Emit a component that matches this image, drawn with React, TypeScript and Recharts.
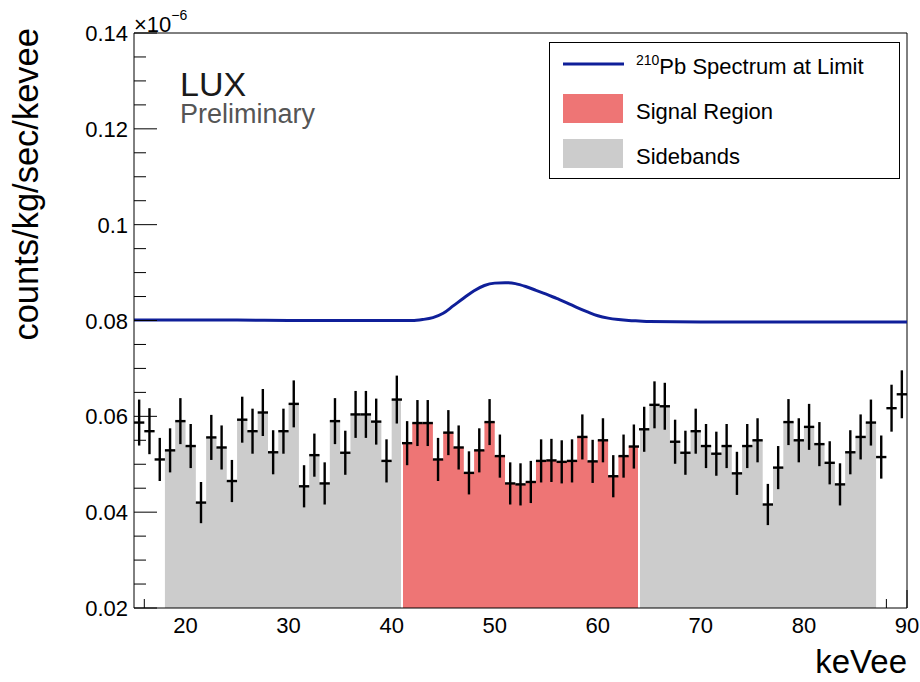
import React from 'react';
import {
  ComposedChart,
  Area,
  Line,
  Scatter,
  ErrorBar,
  XAxis,
  YAxis,
  ReferenceLine,
  Legend
} from 'recharts';

// measured rate per 1 keVee bin, first bin starts at 15 keVee
const firstBinEdge = 15;
const counts = [
  0.0587, 0.0569, 0.0510, 0.0529, 0.0590, 0.0538, 0.0420, 0.0556, 0.0535, 0.0465,
  0.0593, 0.0569, 0.0608, 0.0525, 0.0569, 0.0626, 0.0454, 0.0519, 0.0460, 0.0590,
  0.0524, 0.0604, 0.0604, 0.0589, 0.0507, 0.0635, 0.0544, 0.0586, 0.0586, 0.0510,
  0.0566, 0.0535, 0.0482, 0.0529, 0.0588, 0.0517, 0.0460, 0.0458, 0.0463, 0.0507,
  0.0508, 0.0505, 0.0507, 0.0557, 0.0506, 0.0550, 0.0475, 0.0517, 0.0537, 0.0573,
  0.0624, 0.0621, 0.0547, 0.0524, 0.0569, 0.0538, 0.0522, 0.0538, 0.0481, 0.0538,
  0.0550, 0.0416, 0.0493, 0.0588, 0.0550, 0.0578, 0.0542, 0.0503, 0.0458, 0.0525,
  0.0557, 0.0587, 0.0515, 0.0617, 0.0646
];
const countErrors = [
  0.0048, 0.0048, 0.0045, 0.0046, 0.0048, 0.0046, 0.0043, 0.0047, 0.0046, 0.0044,
  0.0048, 0.0047, 0.0049, 0.0046, 0.0047, 0.0049, 0.0044, 0.0045, 0.0044, 0.0048,
  0.0046, 0.0049, 0.0049, 0.0048, 0.0045, 0.0050, 0.0046, 0.0048, 0.0048, 0.0045,
  0.0047, 0.0046, 0.0045, 0.0046, 0.0048, 0.0045, 0.0044, 0.0044, 0.0044, 0.0045,
  0.0045, 0.0045, 0.0045, 0.0047, 0.0045, 0.0046, 0.0044, 0.0045, 0.0046, 0.0047,
  0.0049, 0.0049, 0.0046, 0.0046, 0.0047, 0.0046, 0.0046, 0.0046, 0.0045, 0.0046,
  0.0046, 0.0043, 0.0045, 0.0048, 0.0046, 0.0048, 0.0046, 0.0045, 0.0044, 0.0046,
  0.0047, 0.0048, 0.0045, 0.0049, 0.0050
];

// 210Pb spectrum at the limit
const curveKeV = [
  15, 20, 25, 30, 35, 40, 42, 43, 44, 45, 46, 47, 48, 49, 50, 51, 52, 53, 54, 55,
  56, 57, 58, 59, 60, 61, 62, 63, 64, 65, 70, 75, 80, 85, 90
];
const curveRate = [
  0.0801, 0.0801, 0.0801, 0.0800, 0.0800, 0.0800, 0.0800, 0.0802, 0.0806, 0.0815,
  0.0831, 0.0847, 0.0862, 0.0873, 0.0878, 0.0879, 0.0877, 0.0871, 0.0863, 0.0855,
  0.0846, 0.0837, 0.0827, 0.0818, 0.0810, 0.0805, 0.0802, 0.0800, 0.0799, 0.0798,
  0.0797, 0.0797, 0.0797, 0.0797, 0.0797
];

const regions = [
  { key: 'sideLow', from: 18, to: 41, color: '#cccccc' },
  { key: 'signal', from: 41, to: 64, color: '#ee7575' },
  { key: 'sideHigh', from: 64, to: 87, color: '#cccccc' }
];

const xTicks = [16, 18, 20, 22, 24, 26, 28, 30, 32, 34, 36, 38, 40, 42, 44, 46, 48, 50, 52, 54, 56, 58, 60, 62, 64, 66, 68, 70, 72, 74, 76, 78, 80, 82, 84, 86, 88, 90];
const yTicks = [0.02, 0.025, 0.03, 0.035, 0.04, 0.045, 0.05, 0.055, 0.06, 0.065, 0.07, 0.075, 0.08, 0.085, 0.09, 0.095, 0.1, 0.105, 0.11, 0.115, 0.12, 0.125, 0.13, 0.135, 0.14];

const legendItems = [
  { kind: 'line', sup: '210', label: 'Pb Spectrum at Limit', color: '#0f1f99' },
  { kind: 'box', sup: '', label: 'Signal Region', color: '#ee7575' },
  { kind: 'box', sup: '', label: 'Sidebands', color: '#cccccc' }
];

const FONT = '"Liberation Sans", Arial, Helvetica, sans-serif';
const BLUE = '#0f1f99';

const binCenters = counts.map((_, i) => firstBinEdge + i + 0.5);
const points = binCenters.map((x, i) => ({ x, y: counts[i], ex: 0.5, ey: countErrors[i] }));
const curve = curveKeV.map((x, i) => ({ x, y: curveRate[i] }));

// step outline of a filled histogram between two bin edges
const regionSteps = (from: number, to: number) => {
  const rows = binCenters
    .map((c, i) => ({ x: c - 0.5, y: counts[i] }))
    .filter((r) => r.x >= from && r.x < to);
  return [...rows, { x: to, y: rows[rows.length - 1].y }];
};

const valueAt = (edge: number, side: number) => counts[binCenters.indexOf(edge + side * 0.5)];

// the filled histogram sits on top of the x ticks in the original
const underFill = (v: number) => regions.some((r) => v >= r.from && v <= r.to);

const YTick = (props: any) => {
  const { x, y, payload } = props;
  const v = payload.value;
  const major = Math.abs(v * 50 - Math.round(v * 50)) < 1e-6;
  return (
    <g>
      <line x1={x} x2={x + (major ? 23 : 12)} y1={y} y2={y} stroke="#000" strokeWidth={1} />
      {major && (
        <text x={x - 6} y={y + 8} textAnchor="end" fontSize={22} fontFamily={FONT} fill="#000">
          {String(Number(v.toFixed(3)))}
        </text>
      )}
    </g>
  );
};

const XTick = (props: any) => {
  const { x, y, payload } = props;
  const v = payload.value;
  const major = v % 10 === 0;
  return (
    <g>
      {!underFill(v) && (
        <line x1={x} x2={x} y1={y} y2={y - (major ? 18 : 9)} stroke="#000" strokeWidth={1} />
      )}
      {major && (
        <text x={x} y={y + 25} textAnchor="middle" fontSize={22} fontFamily={FONT} fill="#000">
          {v}
        </text>
      )}
    </g>
  );
};

const NoDot = () => <g />;

const LegendBox = () => (
  <svg width={352} height={138} style={{ display: 'block' }}>
    <rect x={0.5} y={0.5} width={350} height={136} fill="#fff" stroke="#000" strokeWidth={1} />
    {legendItems.map((item, i) => {
      const rowY = 22 + i * 45;
      return (
        <g key={item.label}>
          {item.kind === 'line' ? (
            <line x1={14} x2={75} y1={rowY} y2={rowY} stroke={item.color} strokeWidth={3} />
          ) : (
            <rect x={14} y={rowY - 15} width={60} height={29} fill={item.color} />
          )}
          <text x={87} y={rowY + 10} fontSize={22} fontFamily={FONT} fill="#000">
            {item.sup && (
              <tspan fontSize={14} dy={-9}>
                {item.sup}
              </tspan>
            )}
            <tspan dy={item.sup ? 9 : 0}>{item.label}</tspan>
          </text>
        </g>
      );
    })}
  </svg>
);

export default function App() {
  return (
    <div style={{ position: 'absolute', left: 0, top: 0, width: 920, height: 682, background: '#fff' }}>
      <ComposedChart width={920} height={682} margin={{ top: 33, right: 13, bottom: 0, left: 34 }}>
        <XAxis
          type="number"
          dataKey="x"
          domain={[15, 90]}
          ticks={xTicks}
          interval={0}
          allowDataOverflow
          tickSize={0}
          tickMargin={0}
          tick={<XTick />}
          height={74}
          axisLine={{ stroke: '#000', strokeWidth: 1 }}
        />
        <YAxis
          type="number"
          domain={[0.02, 0.14]}
          ticks={yTicks}
          interval={0}
          allowDataOverflow
          tickSize={0}
          tickMargin={0}
          tick={<YTick />}
          width={100}
          axisLine={{ stroke: '#000', strokeWidth: 1 }}
        />
        {regions.map((r) => (
          <Area
            key={r.key}
            data={regionSteps(r.from, r.to)}
            dataKey="y"
            type="stepAfter"
            baseValue={0.02}
            stroke="none"
            fill={r.color}
            fillOpacity={1}
            dot={false}
            activeDot={false}
            isAnimationActive={false}
          />
        ))}
        {[41, 64].map((edge) => (
          <ReferenceLine
            key={edge}
            segment={[
              { x: edge, y: 0.02 },
              { x: edge, y: Math.max(valueAt(edge, -1), valueAt(edge, 1)) }
            ]}
            stroke="#fff"
            strokeWidth={2}
          />
        ))}
        <ReferenceLine y={0.14} stroke="#000" strokeWidth={1} />
        <ReferenceLine x={90} stroke="#000" strokeWidth={1} />
        <Line
          data={curve}
          dataKey="y"
          type="monotone"
          stroke={BLUE}
          strokeWidth={3}
          dot={false}
          activeDot={false}
          isAnimationActive={false}
        />
        <Scatter data={points} dataKey="y" shape={<NoDot />} isAnimationActive={false}>
          <ErrorBar dataKey="ey" direction="y" width={0} stroke="#000" strokeWidth={2.4} />
          <ErrorBar dataKey="ex" direction="x" width={0} stroke="#000" strokeWidth={2.4} />
        </Scatter>
        <Legend
          layout="horizontal"
          verticalAlign="middle"
          align="center"
          content={<LegendBox />}
          wrapperStyle={{ left: 549, top: 42, width: 352, height: 138 }}
        />
      </ComposedChart>
      <svg
        width={920}
        height={682}
        style={{ position: 'absolute', left: 0, top: 0, pointerEvents: 'none' }}
      >
        <text x={134} y={32} fontSize={22} fontFamily={FONT} fill="#000">
          ×10
          <tspan fontSize={14} dy={-12}>−6</tspan>
        </text>
        <text x={180} y={96} fontSize={34} fontFamily={FONT} fill="#1a1a1a">
          LUX
        </text>
        <text x={180} y={123} fontSize={27} fontFamily={FONT} fill="#555">
          Preliminary
        </text>
        <text
          x={38}
          y={28}
          fontSize={34.5}
          fontFamily={FONT}
          fill="#000"
          textAnchor="end"
          transform="rotate(-90, 38, 28)"
        >
          counts/kg/sec/kevee
        </text>
        <text x={907} y={673} fontSize={33} fontFamily={FONT} fill="#000" textAnchor="end">
          keVee
        </text>
      </svg>
    </div>
  );
}
